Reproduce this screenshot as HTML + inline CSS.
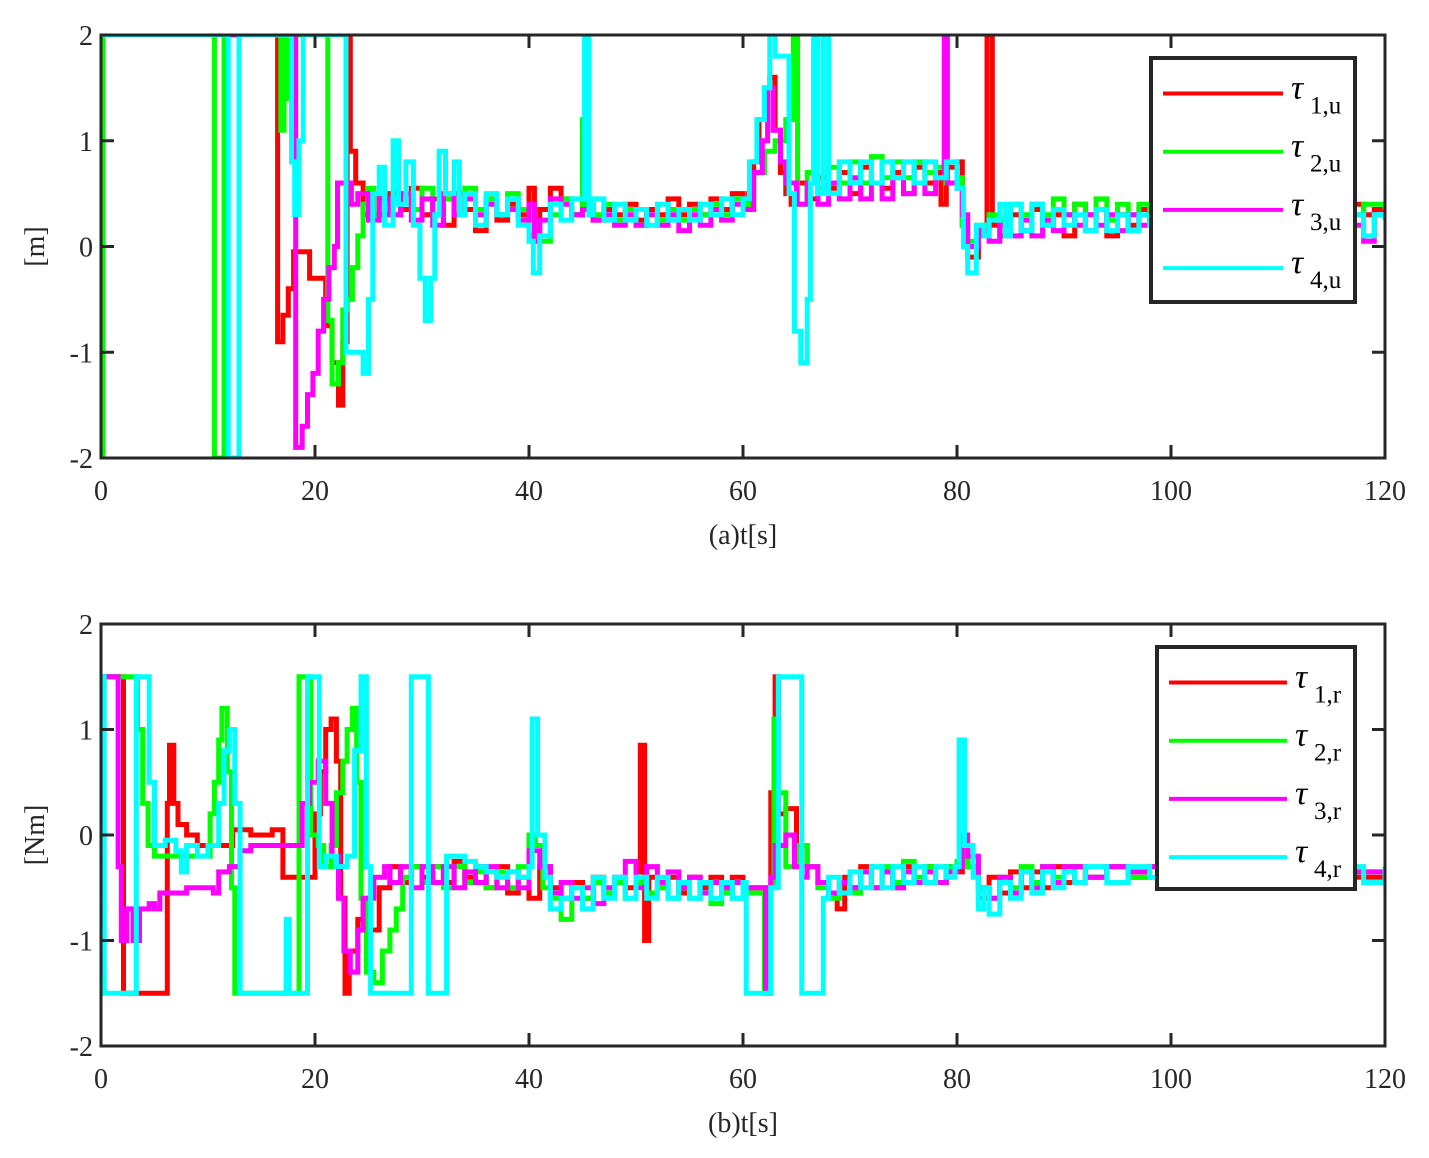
<!DOCTYPE html>
<html><head><meta charset="utf-8">
<style>
html,body{margin:0;padding:0;background:#fff;}
svg{display:block;font-family:"Liberation Serif","DejaVu Serif",serif;}
</style></head>
<body>
<svg id="chart" width="1429" height="1158" viewBox="0 0 1429 1158" xmlns="http://www.w3.org/2000/svg">
<rect width="1429" height="1158" fill="#fff"/>
<g id="pa"></g>
<g id="pb"></g>
</svg>
<script>
// ---- data: [t, value] pairs ----
const xTicks = [0, 20, 40, 60, 80, 100, 120];
const yTicks = [-2, -1, 0, 1, 2];
const seriesNamesA = ["1,u", "2,u", "3,u", "4,u"];
const seriesNamesB = ["1,r", "2,r", "3,r", "4,r"];
const colors = ["#ff0000", "#00ff00", "#ff00ff", "#00ffff"];

const tau1u = [[0,2],[16.5,-0.9],[17,-0.65],[17.5,-0.4],[18,-0.05],[19.5,-0.3],[21,-0.75],[21.6,-1.1],[22.2,-1.5],[22.6,-0.9],[23,2],[23.3,0.9],[23.8,0.6],[24.5,0.3],[25,0.5],[26,0.3],[27,0.5],[28,0.35],[29,0.55],[30,0.3],[31,0.45],[32,0.2],[33,0.5],[34,0.35],[35,0.15],[36,0.45],[37,0.25],[38,0.4],[39,0.3],[40,0.55],[40.5,0.05],[41,0.35],[42,0.55],[43,0.45],[44,0.3],[45,0.4],[46,0.25],[47,0.35],[48,0.3],[49,0.4],[50,0.25],[51,0.35],[52,0.3],[53,0.45],[54,0.3],[55,0.4],[56,0.3],[57,0.45],[58,0.35],[59,0.5],[60,0.4],[60.5,0.5],[61,0.8],[61.5,1.2],[62,1.5],[62.5,1.6],[63,1.1],[63.5,0.7],[64,0.5],[64.5,0.4],[65,0.6],[66,0.45],[67,0.65],[68,0.55],[69,0.7],[70,0.5],[71,0.75],[72,0.6],[73,0.55],[74,0.7],[75,0.5],[76,0.75],[77,0.6],[78,0.7],[78.5,0.4],[79,0.75],[80,0.8],[80.5,0.2],[81,-0.1],[82,0.1],[82.8,2],[83.3,0.2],[84,0.1],[85,0.3],[86,0.15],[87,0.35],[88,0.2],[89,0.3],[90,0.1],[91,0.4],[92,0.15],[93,0.35],[94,0.1],[95,0.3],[96,0.2],[97,0.35],[98,0.25],[99,0.2],[100,0.35],[102,0.15],[104,0.4],[106,0.2],[108,0.3],[110,0.1],[112,0.35],[114,0.2],[116,0.4],[118,0.3],[119,0.35],[120,0.35]];
const tau2u = [[0,-2],[0.2,2],[10.3,2],[10.6,-2],[11.3,-2],[11.5,2],[16.5,2],[16.8,1.1],[17.1,2],[17.5,1.4],[17.8,2],[20.8,2],[21.2,-0.7],[21.6,-1.3],[22.2,-1.1],[22.6,-0.6],[23,-0.5],[23.5,-0.2],[24,0.1],[24.5,0.4],[25,0.55],[25.5,0.3],[26,0.45],[27,0.3],[28,0.5],[29,0.35],[30,0.55],[31,0.3],[32,0.45],[33,0.3],[34,0.55],[35,0.35],[36,0.45],[37,0.3],[38,0.5],[39,0.35],[40,0.1],[41,0.05],[42,0.3],[43,0.45],[44,0.3],[45,1.2],[45.5,0.4],[46,0.3],[47,0.4],[48,0.25],[49,0.35],[50,0.2],[51,0.3],[52,0.25],[53,0.35],[54,0.25],[55,0.35],[56,0.3],[57,0.4],[58,0.3],[59,0.45],[60,0.4],[61,0.7],[62,0.9],[63,1.0],[64,1.2],[64.7,2],[65.1,0.4],[66,0.7],[67,0.55],[68,0.75],[69,0.6],[70,0.8],[71,0.6],[72,0.85],[73,0.65],[74,0.8],[75,0.65],[76,0.8],[77,0.7],[78,0.75],[79,0.6],[80,0.65],[80.5,0.2],[81,0.05],[82,0.2],[83,0.3],[84,0.25],[85,0.4],[86,0.3],[87,0.4],[88,0.3],[89,0.45],[90,0.3],[91,0.4],[92,0.3],[93,0.45],[94,0.25],[95,0.4],[96,0.3],[97,0.4],[98,0.35],[100,0.3],[102,0.4],[104,0.3],[106,0.35],[108,0.3],[110,0.4],[112,0.3],[114,0.35],[116,0.3],[118,0.4],[120,0.35]];
const tau3u = [[0,2],[17.8,2],[18.2,-1.9],[18.8,-1.7],[19.3,-1.4],[19.8,-1.2],[20.3,-0.8],[20.8,-0.5],[21.3,-0.2],[21.8,0.0],[22.1,0.6],[23,0.6],[23.4,0.4],[24,0.5],[25,0.25],[26,0.45],[27,0.3],[28,0.5],[29,0.25],[30,0.45],[31,0.2],[32,0.5],[33,0.3],[34,0.45],[35,0.3],[36,0.4],[37,0.3],[38,0.35],[39,0.25],[40,0.4],[40.5,0.05],[41,0.25],[42,0.45],[43,0.4],[44,0.3],[45,0.35],[46,0.25],[47,0.3],[48,0.2],[49,0.3],[50,0.2],[51,0.3],[52,0.2],[53,0.3],[54,0.15],[55,0.3],[56,0.2],[57,0.35],[58,0.25],[59,0.4],[60,0.35],[61,0.7],[61.8,1.0],[62.3,1.5],[62.8,1.1],[63.5,0.8],[64,0.6],[65,0.4],[66,0.6],[67,0.4],[68,0.6],[69,0.45],[70,0.65],[71,0.45],[72,0.6],[73,0.45],[74,0.65],[75,0.5],[76,0.6],[77,0.5],[78,0.65],[78.8,2],[79.1,0.6],[80,0.55],[80.5,0.3],[81,0.0],[82,0.15],[83,0.05],[84,0.2],[85,0.1],[86,0.25],[87,0.1],[88,0.25],[89,0.15],[90,0.3],[91,0.2],[92,0.3],[93,0.2],[94,0.3],[95,0.15],[96,0.3],[97,0.2],[98,0.25],[100,0.2],[102,0.3],[104,0.15],[106,0.3],[108,0.2],[110,0.3],[112,0.15],[114,0.3],[116,0.2],[118,0.05],[119,0.3],[120,0.3]];
const tau4u = [[0,2],[11.6,2],[11.9,-2],[12.5,-2],[12.9,2],[17.5,2],[17.8,0.8],[18.1,0.3],[18.5,1.0],[18.9,2],[22.5,2],[22.9,-1.0],[24,-1.0],[24.5,-1.2],[25,-0.5],[25.4,0.5],[26,0.75],[26.5,0.2],[27.3,1.0],[27.8,0.4],[28.5,0.8],[29.2,0.2],[29.8,-0.3],[30.3,-0.7],[30.8,-0.3],[31.2,0.3],[31.6,0.9],[32.2,0.5],[33,0.8],[33.5,0.3],[34,0.5],[35,0.2],[36,0.5],[37,0.3],[38,0.45],[39,0.2],[40,0.05],[40.4,-0.25],[41,0.1],[42,0.4],[43,0.25],[44,0.45],[45.2,2],[45.6,0.3],[46,0.45],[47,0.25],[48,0.4],[49,0.25],[50,0.35],[51,0.2],[52,0.4],[53,0.25],[54,0.35],[55,0.25],[56,0.4],[57,0.3],[58,0.45],[59,0.3],[60,0.45],[60.6,0.8],[61.3,1.2],[62,1.5],[62.5,2],[63,1.8],[64,1.8],[64.3,0.5],[64.8,-0.8],[65.4,-1.1],[66,-0.5],[66.3,0.6],[66.6,2],[67,0.5],[67.5,2],[68,0.5],[69,0.8],[70,0.6],[71,0.8],[72,0.6],[73,0.8],[74,0.65],[75,0.8],[76,0.6],[77,0.8],[78,0.65],[79,0.8],[80,0.55],[80.6,0.0],[81,-0.25],[81.8,0.2],[82.5,0.1],[83,0.25],[84,0.4],[84.5,0.1],[85,0.4],[86,0.15],[87,0.4],[88,0.2],[89,0.35],[90,0.2],[91,0.3],[92,0.15],[93,0.35],[94,0.15],[95,0.3],[96,0.15],[97,0.3],[98,0.2],[100,0.3],[102,0.15],[104,0.3],[106,0.2],[108,0.3],[110,0.15],[112,0.3],[114,0.2],[116,0.3],[118,0.1],[119,0.3],[120,0.25]];

const tau1r = [[0,1.5],[1.8,1.5],[2.1,-1.5],[6,-1.5],[6.2,0.3],[6.4,0.85],[6.8,0.3],[7.2,0.1],[8,0.0],[9,-0.1],[12,-0.1],[12.3,0.05],[14,0.0],[16,0.05],[17,-0.4],[18,-0.4],[19.5,-0.4],[20,0.2],[20.5,0.6],[21,1.0],[21.5,1.1],[22,0.7],[22.4,-0.6],[22.8,-1.5],[23.2,-1.1],[24,-0.8],[24.5,-0.6],[25,-0.9],[26,-0.5],[27,-0.3],[28,-0.45],[29,-0.3],[30,-0.4],[31,-0.3],[32,-0.45],[33,-0.25],[34,-0.4],[35,-0.3],[36,-0.5],[37,-0.3],[38,-0.55],[39,-0.4],[40,-0.6],[41,-0.3],[42,-0.5],[43,-0.6],[44,-0.45],[45,-0.6],[46,-0.4],[47,-0.55],[48,-0.45],[49,-0.5],[50,-0.35],[50.4,0.85],[50.8,-1.0],[51.2,-0.4],[52,-0.5],[53,-0.4],[54,-0.55],[55,-0.4],[56,-0.5],[57,-0.4],[58,-0.5],[59,-0.4],[60,-0.5],[62.3,-0.5],[62.6,0.4],[63,1.5],[63.3,0.2],[64,0.25],[65,-0.1],[66,-0.3],[67,-0.45],[68,-0.55],[68.8,-0.7],[69.5,-0.4],[70,-0.5],[71,-0.3],[72,-0.5],[73,-0.35],[74,-0.5],[75,-0.3],[76,-0.45],[77,-0.3],[78,-0.45],[79,-0.3],[80,-0.35],[80.5,-0.1],[81,-0.3],[82,-0.6],[83,-0.4],[84,-0.55],[85,-0.35],[86,-0.5],[87,-0.35],[88,-0.5],[89,-0.3],[90,-0.45],[91,-0.3],[92,-0.4],[94,-0.3],[96,-0.4],[98,-0.3],[100,-0.45],[104,-0.35],[108,-0.4],[112,-0.35],[116,-0.4],[120,-0.35]];
const tau2r = [[0,1.5],[3,1.5],[3.4,1.0],[3.9,0.3],[4.4,-0.1],[5,-0.2],[9.8,-0.2],[10.2,0.2],[10.6,0.5],[11,0.9],[11.3,1.2],[11.8,0.6],[12.2,-0.5],[12.5,-1.5],[18.2,-1.5],[18.5,1.5],[19.2,1.5],[19.6,0.0],[20.3,-0.1],[20.8,-0.3],[21.5,-0.1],[22,0.4],[22.6,0.7],[23,1.0],[23.5,1.2],[23.9,0.5],[24.3,-0.6],[24.8,-1.3],[25.5,-1.4],[26.3,-1.1],[27,-0.9],[27.6,-0.7],[28.2,-0.4],[29,-0.3],[30,-0.45],[31,-0.3],[32,-0.5],[33,-0.3],[34,-0.45],[35,-0.35],[36,-0.5],[37,-0.35],[38,-0.5],[39,-0.3],[40,0.0],[40.6,-0.1],[41.3,-0.5],[42,-0.6],[43,-0.8],[44,-0.5],[45,-0.6],[46,-0.45],[47,-0.55],[48,-0.45],[49,-0.6],[50,-0.45],[51,-0.55],[52,-0.5],[53,-0.6],[54,-0.5],[55,-0.6],[56,-0.55],[57,-0.65],[58,-0.55],[59,-0.6],[60,-0.55],[62,-1.5],[62.5,-0.5],[62.9,1.1],[63.3,0.4],[64,-0.3],[65,-0.1],[66,-0.3],[67,-0.5],[68,-0.6],[69,-0.45],[70,-0.55],[71,-0.35],[72,-0.5],[73,-0.3],[74,-0.45],[75,-0.25],[76,-0.4],[77,-0.3],[78,-0.45],[79,-0.3],[80,-0.25],[80.6,-0.1],[81,-0.3],[82,-0.5],[83,-0.6],[84,-0.4],[85,-0.5],[86,-0.3],[87,-0.45],[88,-0.3],[89,-0.4],[90,-0.3],[92,-0.4],[94,-0.3],[96,-0.4],[98,-0.3],[100,-0.4],[104,-0.35],[108,-0.4],[112,-0.3],[116,-0.35],[120,-0.3]];
const tau3r = [[0,1.5],[1.3,1.5],[1.6,-0.3],[1.9,-1.0],[2.4,-0.7],[3,-1.0],[3.6,-0.7],[4.5,-0.65],[5,-0.7],[5.5,-0.55],[7,-0.55],[8,-0.5],[10,-0.5],[10.5,-0.55],[11,-0.35],[12,-0.3],[13,-0.15],[14,-0.1],[16,-0.1],[18,-0.1],[18.8,0.3],[19.5,0.5],[20.3,0.7],[21,0.3],[21.6,-0.2],[22.2,-0.6],[22.7,-1.1],[23.3,-1.3],[24,-0.9],[24.5,-0.6],[25.5,-0.4],[26.5,-0.3],[27,-0.45],[28,-0.3],[29,-0.5],[30,-0.3],[31,-0.45],[32,-0.3],[33,-0.5],[34,-0.35],[35,-0.45],[36,-0.3],[37,-0.5],[38,-0.35],[39,-0.5],[40,-0.15],[41,-0.3],[42,-0.55],[43,-0.45],[44,-0.6],[45,-0.5],[46,-0.65],[47,-0.5],[48,-0.4],[49,-0.25],[50,-0.5],[51,-0.3],[52,-0.45],[53,-0.35],[54,-0.5],[55,-0.4],[56,-0.55],[57,-0.45],[58,-0.5],[59,-0.45],[60,-0.5],[61.8,-0.5],[62.1,-1.5],[62.6,-0.4],[63,-0.1],[64,0.0],[64.8,-0.3],[65.5,-0.4],[66,-0.3],[67,-0.45],[68,-0.55],[69,-0.45],[70,-0.5],[71,-0.35],[72,-0.5],[73,-0.35],[74,-0.5],[75,-0.35],[76,-0.45],[77,-0.35],[78,-0.45],[79,-0.35],[80,-0.3],[80.5,0.0],[81,-0.2],[82,-0.5],[83,-0.6],[84,-0.4],[85,-0.55],[86,-0.35],[87,-0.5],[88,-0.3],[89,-0.45],[90,-0.3],[92,-0.4],[94,-0.3],[96,-0.35],[98,-0.3],[100,-0.35],[104,-0.3],[108,-0.35],[112,-0.3],[116,-0.35],[120,-0.3]];
const tau4r = [[0,1.5],[0.3,-1.5],[3,-1.5],[3.3,1.5],[4,1.5],[4.5,0.5],[5,-0.1],[6,-0.05],[7,-0.15],[7.5,-0.35],[8,-0.1],[9,-0.2],[10,-0.1],[11,0.3],[11.5,0.8],[12,1.0],[12.5,0.3],[13,-1.5],[17,-1.5],[17.3,-0.8],[17.6,-1.5],[19,-1.5],[19.3,1.5],[20,1.5],[20.4,-0.3],[21,-0.2],[22,-0.3],[23,-0.2],[23.7,0.8],[24.3,1.5],[24.8,-0.3],[25.2,-1.5],[28.5,-1.5],[29,1.5],[30.3,1.5],[30.6,-1.5],[32,-1.5],[32.3,-0.2],[34,-0.25],[35,-0.3],[36,-0.35],[37,-0.4],[38,-0.35],[39,-0.4],[40,-0.3],[40.3,1.1],[40.8,0.0],[41.5,-0.4],[42,-0.7],[43,-0.6],[44,-0.5],[45,-0.7],[46,-0.4],[47,-0.6],[48,-0.4],[49,-0.6],[50,-0.4],[51,-0.6],[52,-0.4],[53,-0.6],[54,-0.45],[55,-0.6],[56,-0.45],[57,-0.6],[58,-0.45],[59,-0.6],[60,-0.45],[60.3,-1.5],[62.2,-1.5],[62.6,-0.5],[63.3,1.5],[65,1.5],[65.5,-1.5],[67,-1.5],[67.5,-0.6],[68,-0.4],[69,-0.55],[70,-0.35],[71,-0.5],[72,-0.3],[73,-0.5],[74,-0.3],[75,-0.45],[76,-0.3],[77,-0.45],[78,-0.3],[79,-0.4],[79.8,-0.3],[80.2,0.9],[80.7,-0.1],[81.5,-0.4],[82,-0.7],[82.5,-0.5],[83,-0.75],[84,-0.45],[85,-0.6],[86,-0.35],[87,-0.55],[88,-0.35],[89,-0.5],[90,-0.35],[91,-0.45],[92,-0.3],[94,-0.45],[96,-0.3],[98,-0.4],[100,-0.35],[104,-0.4],[108,-0.3],[112,-0.4],[116,-0.3],[118,-0.45],[120,-0.3]];

const NS = "http://www.w3.org/2000/svg";
function mk(tag, attrs, parent){ const e=document.createElementNS(NS,tag); for(const k in attrs) e.setAttribute(k,attrs[k]); parent.appendChild(e); return e; }

function panel(g, top, bottom, series, names, ylabel, xlabel, legendBox){
  const L=101, R=1385;
  const xs = t => L + (t/120)*(R-L);
  const ys = v => top + (2 - v)/4*(bottom-top);
  const clip = mk("clipPath",{id:"c"+top},g);
  mk("rect",{x:L,y:top,width:R-L,height:bottom-top},clip);
  const lines = mk("g",{"clip-path":"url(#c"+top+")"},g);
  
  
  series.forEach((s,i)=>{
    let d="";
    s.forEach((p,j)=>{
      const x=xs(p[0]).toFixed(1), y=ys(Math.max(-2.05,Math.min(2.05,p[1]))).toFixed(1);
      if(j===0) d+="M"+x+" "+y;
      else { d+=" L"+x+" "+ys(Math.max(-2.05,Math.min(2.05,s[j-1][1]))).toFixed(1)+" L"+x+" "+y; }
    });
    const path = mk("path",{d:d,fill:"none",stroke:colors[i],"stroke-width":5,"stroke-linejoin":"miter"},lines);
    
    
  });
  const frame = mk("rect",{x:L,y:top,width:R-L,height:bottom-top,fill:"none",stroke:"#262626","stroke-width":3},g);
  
  
  xTicks.forEach(t=>{
    const x=xs(t);
    mk("line",{x1:x,x2:x,y1:bottom,y2:bottom-13,stroke:"#262626","stroke-width":3},g);
    mk("line",{x1:x,x2:x,y1:top,y2:top+13,stroke:"#262626","stroke-width":3},g);
    const tx = mk("text",{x:x,y:bottom+42,"text-anchor":"middle","font-size":28,fill:"#262626"},g);
    tx.textContent=t;
    
    
  });
  yTicks.forEach(v=>{
    const y=ys(v);
    mk("line",{x1:L,x2:L+13,y1:y,y2:y,stroke:"#262626","stroke-width":3},g);
    mk("line",{x1:R,x2:R-13,y1:y,y2:y,stroke:"#262626","stroke-width":3},g);
    const tx = mk("text",{x:L-8,y:y+10,"text-anchor":"end","font-size":28,fill:"#262626"},g);
    tx.textContent=v;
    
    
  });
  const yl = mk("text",{x:0,y:0,"text-anchor":"middle","font-size":28,fill:"#262626",transform:"translate(44 "+((top+bottom)/2)+") rotate(-90)"},g);
  yl.textContent=ylabel;
  
  
  const xl = mk("text",{x:743,y:bottom+86,"text-anchor":"middle","font-size":28,fill:"#262626"},g);
  xl.textContent=xlabel;
  
  
  const lg = mk("g",{},g);
  
  
  const [bx,by,bw,bh,lx1,lx2] = legendBox;
  mk("rect",{x:bx,y:by,width:bw,height:bh,fill:"#fff",stroke:"#262626","stroke-width":4},lg);
  names.forEach((n,i)=>{
    const y = by+35.5+i*58.2;
    const e = mk("g",{},lg);
    
    
    mk("line",{x1:lx1,x2:lx2,y1:y,y2:y,stroke:colors[i],"stroke-width":4},e);
    const t = mk("text",{x:lx2+8,y:y+5,"font-size":34,"font-style":"italic",fill:"#000"},e);
    t.textContent="τ";
    const s = mk("text",{x:lx2+27,y:y+20,"font-size":25,fill:"#000"},e);
    s.textContent=n;
  });
}
panel(document.getElementById("pa"),35,458,[tau1u,tau2u,tau3u,tau4u],seriesNamesA,"[m]","(a)t[s]",[1151,58,204,244,1163,1283]);
panel(document.getElementById("pb"),624,1046,[tau1r,tau2r,tau3r,tau4r],seriesNamesB,"[Nm]","(b)t[s]",[1157,647,198,242,1169,1287]);
</script>
</body></html>
